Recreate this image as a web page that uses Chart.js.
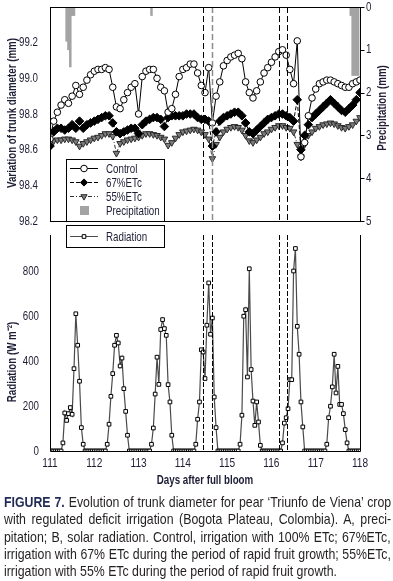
<!DOCTYPE html>
<html>
<head>
<meta charset="utf-8">
<script src="https://cdn.jsdelivr.net/npm/chart.js@4.4.0/dist/chart.umd.min.js"></script>
<style>
  html, body { margin: 0; padding: 0; background: #fff; }
  body { width: 393px; height: 581px; position: relative; overflow: hidden;
         font-family: 'Liberation Sans', Arial, sans-serif; }
  #topChart { position: absolute; left: 0; top: 0; }
  #bottomChart { position: absolute; left: 0; top: 221px; }
  #caption { position: absolute; left: 4px; top: 494px; font-size: 14.5px;
             line-height: 17.3px; color: #231f20; }
  #caption div { white-space: nowrap; width: max-content; transform-origin: 0 0; }
  #caption b { color: #1f2a55; }
</style>
</head>
<body>
<canvas id="topChart" width="393" height="228"></canvas>
<canvas id="bottomChart" width="393" height="268"></canvas>
<div id="caption">
  <div><b>FIGURE 7.</b> Evolution of trunk diameter for pear ‘Triunfo de Viena’ crop</div>
  <div>with regulated deficit irrigation (Bogota Plateau, Colombia). A, preci-</div>
  <div>pitation; B, solar radiation. Control, irrigation with 100% ETc; 67%ETc,</div>
  <div>irrigation with 67% ETc during the period of rapid fruit growth; 55%ETc,</div>
  <div class="last">irrigation with 55% ETc during the period of rapid fruit growth.</div>
</div>
<script>
const firstDay = 111;
const lastDay = 118;
const diamStepHours = 2;   // trunk diameter readings
const hourStep = 1;        // weather readings

// trunk diameter variation (mm), every 2 h from day 111
const controlMm = [
  98.66, 98.76, 98.81, 98.85, 98.88, 98.86, 98.90, 98.96, 98.91, 98.95, 98.99, 99.02,
  99.04, 99.05, 99.05, 99.06, 99.05, 98.95, 98.84, 98.83, 98.88, 98.92, 98.95, 98.97,
  98.80, 99.01, 99.04, 99.05, 99.05, 99.00, 98.95, 98.93, 98.81, 98.83, 98.91, 99.01,
  99.05, 99.06, 99.08, 99.08, 99.03, 98.96, 98.92, 99.06, 98.75, 98.90, 98.98, 99.07,
  99.10, 99.12, 99.13, 99.14, 99.11, 98.98, 98.92, 98.89, 98.93, 98.98, 99.03, 99.06,
  99.09, 99.12, 99.15, 99.16, 99.13, 99.05, 98.97, 99.21, 98.56, 98.64, 98.79, 98.89,
  98.94, 98.97, 98.98, 98.99, 98.99, 98.98, 98.97, 98.96, 98.95, 98.95, 98.97, 98.98,
  98.99
];
const etc67Mm = [
  98.62, 98.70, 98.72, 98.72, 98.71, 98.72, 98.74, 98.72, 98.76, 98.72, 98.74, 98.75,
  98.76, 98.77, 98.78, 98.79, 98.79, 98.75, 98.70, 98.69, 98.70, 98.71, 98.72, 98.72,
  98.69, 98.74, 98.76, 98.77, 98.78, 98.78, 98.77, 98.73, 98.78, 98.79, 98.79, 98.79,
  98.79, 98.80, 98.80, 98.80, 98.78, 98.77, 98.77, 98.76, 98.62, 98.70, 98.76, 98.78,
  98.79, 98.80, 98.81, 98.81, 98.79, 98.75, 98.70, 98.69, 98.71, 98.73, 98.75, 98.77,
  98.78, 98.79, 98.80, 98.80, 98.79, 98.78, 98.76, 98.88, 98.60, 98.68, 98.74, 98.78,
  98.80, 98.82, 98.84, 98.86, 98.88, 98.86, 98.84, 98.82, 98.81, 98.83, 98.85, 98.88,
  98.92
];
const etc55Mm = [
  98.620, 98.650, 98.655, 98.655, 98.660, 98.660, 98.655, 98.645, 98.620, 98.635, 98.645, 98.655,
  98.665, 98.670, 98.680, 98.690, 98.690, 98.675, 98.580, 98.635, 98.645, 98.655, 98.660, 98.665,
  98.670, 98.680, 98.690, 98.690, 98.685, 98.680, 98.670, 98.660, 98.625, 98.640, 98.665, 98.685,
  98.700, 98.705, 98.710, 98.715, 98.710, 98.700, 98.685, 98.660, 98.550, 98.630, 98.670, 98.700,
  98.715, 98.725, 98.730, 98.725, 98.710, 98.680, 98.650, 98.640, 98.655, 98.670, 98.690, 98.700,
  98.715, 98.725, 98.735, 98.735, 98.725, 98.720, 98.700, 98.630, 98.560, 98.630, 98.680, 98.700,
  98.720, 98.730, 98.740, 98.745, 98.750, 98.745, 98.735, 98.725, 98.720, 98.730, 98.740, 98.760,
  98.780
];

// hourly precipitation (mm)
const precipMm = [
  0, 0, 0, 0, 0, 0, 0, 0, 0, 0.8, 1.0, 1.4, 0.2, 0.2, 0, 0, 0, 0, 0, 0, 0, 0, 0, 0,
  0, 0, 0, 0, 0, 0, 0, 0, 0, 0, 0, 0, 0, 0, 0, 0, 0, 0, 0, 0, 0, 0, 0, 0,
  0, 0, 0, 0, 0, 0, 0, 0.2, 0, 0, 0, 0, 0, 0, 0, 0, 0, 0, 0, 0, 0, 0, 0, 0,
  0, 0, 0, 0, 0, 0, 0, 0, 0, 0, 0, 0, 0, 0, 0, 0, 0, 0, 0, 0, 0, 0, 0, 0,
  0, 0, 0, 0, 0, 0, 0, 0, 0, 0, 0, 0, 0, 0, 0, 0, 0, 0, 0, 0, 0, 0, 0, 0,
  0, 0, 0, 0, 0, 0, 0, 0, 0, 0, 0, 0, 0, 0, 0, 0, 0, 0, 0, 0, 0, 0, 0, 0,
  0, 0, 0, 0, 0, 0, 0, 0, 0, 0, 0, 0, 0, 0, 0, 0, 0, 0, 0, 0.2, 1.6, 1.6, 1.6, 1.6,
  0
];

// hourly solar radiation (W m-2)
const radiationWm2 = [
  0, 0, 0, 0, 0, 0, 0, 36, 169, 136, 166, 193, 163, 366, 610, 470, 310, 104, 30, 0, 0, 0, 0, 0,
  0, 0, 0, 0, 0, 0, 0, 30, 119, 243, 344, 470, 514, 480, 378, 413, 277, 176, 70, 0, 0, 0, 0, 0,
  0, 0, 0, 0, 0, 0, 0, 30, 102, 253, 417, 296, 540, 584, 544, 514, 295, 218, 70, 0, 0, 0, 0, 0,
  0, 0, 0, 0, 0, 0, 0, 30, 141, 218, 450, 440, 322, 559, 747, 519, 591, 240, 104, 0, 0, 0, 0, 0,
  0, 0, 0, 0, 0, 0, 0, 30, 159, 599, 628, 329, 810, 362, 222, 114, 218, 129, 25, 0, 0, 0, 0, 0,
  0, 0, 0, 0, 0, 0, 36, 124, 148, 188, 317, 317, 800, 900, 554, 430, 218, 107, 0, 0, 0, 0, 0, 0,
  0, 0, 0, 0, 0, 0, 30, 148, 199, 285, 430, 258, 376, 207, 207, 166, 95, 36, 0, 0, 0, 0, 0, 0,
  0
];

// tick labels
const diamTicks = [98.2, 98.4, 98.6, 98.8, 99.0, 99.2];
const precipTicks = [0, 1, 2, 3, 4, 5];
const radTicks = [0, 200, 400, 600, 800];
const dayTicks = [111, 112, 113, 114, 115, 116, 117, 118];

const eventDays = [114.46, 114.66, 116.18, 116.36];
const eventColorsTop = ['#000', '#8c8c8c', '#000', '#000'];

const tickColor = '#1d1d35';
const fontFam = "'Liberation Sans', Arial, sans-serif";
const squeeze = 0.75;   // condensed lettering

function toPoints(values, stepHours) {
  return values.map((v, i) => ({ x: firstDay + i * stepHours / 24, y: v }));
}

function condText(ctx, text, x, y, o) {
  const opt = Object.assign({ size: 13, weight: 'normal', align: 'left', rotate: false }, o || {});
  ctx.save();
  ctx.translate(x, y);
  if (opt.rotate) ctx.rotate(-Math.PI / 2);
  ctx.scale(squeeze, 1);
  ctx.font = opt.weight + ' ' + opt.size + 'px ' + fontFam;
  ctx.fillStyle = tickColor;
  ctx.textAlign = opt.align;
  ctx.textBaseline = 'middle';
  ctx.fillText(text, 0, 0);
  ctx.restore();
}

function line(ctx, x1, y1, x2, y2) {
  ctx.beginPath();
  ctx.moveTo(x1, y1);
  ctx.lineTo(x2, y2);
  ctx.stroke();
}

function drawEvents(chart, colors, dash) {
  const { ctx, chartArea: a, scales } = chart;
  ctx.save();
  ctx.setLineDash(dash);
  eventDays.forEach((d, i) => {
    const x = Math.round(scales.x.getPixelForValue(d)) + 0.5;
    ctx.strokeStyle = colors[i];
    ctx.lineWidth = colors[i] === '#000' ? 1 : 1.5;
    line(ctx, x, a.top, x, a.bottom);
  });
  ctx.restore();
}

function legendRow(ctx, ds, y, label) {
  ctx.save();
  ctx.strokeStyle = ds.borderColor;
  ctx.lineWidth = 1;
  ctx.setLineDash(ds.borderDash || []);
  line(ctx, 70, y + 0.5, 98, y + 0.5);
  ctx.setLineDash([]);
  ctx.fillStyle = ds.pointBackgroundColor;
  ctx.strokeStyle = ds.pointBorderColor;
  Chart.helpers.drawPoint(ctx, {
    pointStyle: ds.pointStyle, radius: Math.min(ds.pointRadius, 3.6),
    rotation: ds.pointRotation || 0, borderWidth: 1
  }, 84, y + 0.5);
  ctx.restore();
  condText(ctx, label, 106, y + 1, { size: 13 });
}

const topPlugin = {
  id: 'topDecor',
  afterDatasetsDraw(chart) {
    const { ctx, chartArea: a, scales } = chart;
    drawEvents(chart, eventColorsTop, [6, 3]);
    ctx.save();
    ctx.strokeStyle = '#000';
    ctx.lineWidth = 1;
    const L = Math.round(a.left) + 0.5, R = Math.round(a.right) + 0.5;
    const T = Math.round(a.top) + 0.5, B = Math.round(a.bottom) + 0.5;
    ctx.strokeRect(L, T, R - L, B - T);
    // right axis tick marks
    precipTicks.forEach(v => {
      const y = Math.round(scales.yP.getPixelForValue(v)) + 0.5;
      line(ctx, R, y, R + 4, y);
    });
    // legend box
    ctx.fillStyle = '#fff';
    ctx.fillRect(66, 159, 99, 62);
    ctx.strokeRect(66.5, 159.5, 98, 62);
    ctx.restore();

    diamTicks.forEach(v => condText(ctx, v.toFixed(1), 38, scales.y.getPixelForValue(v), { size: 13, align: 'right' }));
    precipTicks.forEach(v => condText(ctx, String(v), 366, scales.yP.getPixelForValue(v), { size: 13 }));

    const ds = chart.data.datasets;
    legendRow(ctx, ds[0], 168, 'Control');
    legendRow(ctx, ds[1], 182, '67%ETc');
    legendRow(ctx, ds[2], 196, '55%ETc');
    ctx.save();
    ctx.fillStyle = ds[3].backgroundColor;
    ctx.fillRect(80, 206, 9, 9);
    ctx.restore();
    condText(ctx, 'Precipitation', 106, 211, { size: 13 });

    condText(ctx, 'Variation of trunk diameter (mm)', 12, 113, { size: 13, weight: 'bold', align: 'center', rotate: true });
    condText(ctx, 'Precipitation (mm)', 382, 108, { size: 13, weight: 'bold', align: 'center', rotate: true });
  }
};

const bottomPlugin = {
  id: 'bottomDecor',
  afterDatasetsDraw(chart) {
    const { ctx, chartArea: a, scales } = chart;
    drawEvents(chart, ['#000', '#000', '#000', '#000'], [5, 2]);
    ctx.save();
    ctx.strokeStyle = '#000';
    ctx.lineWidth = 1;
    const L = Math.round(a.left) + 0.5, R = Math.round(a.right) + 0.5;
    const B = Math.round(a.bottom) + 0.5;
    line(ctx, L, a.top, L, B);
    line(ctx, R, a.top, R, B);
    line(ctx, L, B, R, B);
    ctx.fillStyle = '#fff';
    ctx.fillRect(66, 4, 99, 23);
    ctx.strokeRect(66.5, 4.5, 98, 22);
    ctx.restore();

    radTicks.forEach(v => condText(ctx, String(v), 39, scales.y.getPixelForValue(v), { size: 13, align: 'right' }));
    dayTicks.forEach(v => condText(ctx, String(v), scales.x.getPixelForValue(v), 242, { size: 13.5, align: 'center' }));
    condText(ctx, 'Days after full bloom', 205, 259, { size: 13, weight: 'bold', align: 'center' });

    legendRow(ctx, chart.data.datasets[0], 15, 'Radiation');
    condText(ctx, 'Radiation (W m⁻²)', 12, 141, { size: 13, weight: 'bold', align: 'center', rotate: true });
  }
};

new Chart(document.getElementById('topChart'), {
  type: 'line',
  data: {
    datasets: [
      {
        label: 'Control', data: toPoints(controlMm, diamStepHours), yAxisID: 'y',
        borderColor: '#000', borderWidth: 1, pointStyle: 'circle', pointRadius: 3.3,
        pointBackgroundColor: '#fff', pointBorderColor: '#000', pointBorderWidth: 1, order: 1
      },
      {
        label: '67%ETc', data: toPoints(etc67Mm, diamStepHours), yAxisID: 'y',
        borderColor: '#000', borderWidth: 1, borderDash: [4, 2], pointStyle: 'rectRot', pointRadius: 4.3,
        pointBackgroundColor: '#000', pointBorderColor: '#000', pointBorderWidth: 1, order: 2
      },
      {
        label: '55%ETc', data: toPoints(etc55Mm, diamStepHours), yAxisID: 'y',
        borderColor: '#333', borderWidth: 1, borderDash: [4, 2, 1, 2], pointStyle: 'triangle',
        pointRotation: 180, pointRadius: 3.8,
        pointBackgroundColor: '#7c7c7c', pointBorderColor: '#2a2a2a', pointBorderWidth: 1, order: 3
      },
      {
        type: 'bar', label: 'Precipitation', data: toPoints(precipMm, hourStep), yAxisID: 'yP',
        backgroundColor: '#a3a3a3', borderWidth: 0, barPercentage: 1, categoryPercentage: 1, order: 4
      }
    ]
  },
  options: {
    responsive: false, animation: false, devicePixelRatio: 1,
    layout: { padding: { top: 7, bottom: 7, left: 0, right: 0 } },
    plugins: { legend: { display: false }, tooltip: { enabled: false } },
    elements: { line: { tension: 0 } },
    scales: {
      x: { type: 'linear', min: firstDay, max: lastDay, offset: false, display: false },
      y: {
        position: 'left', min: 98.2, max: 99.4,
        ticks: { display: false, stepSize: 0.2 },
        grid: { display: false, drawTicks: false }, border: { display: false },
        afterFit: s => { s.width = 50; }
      },
      yP: {
        position: 'right', min: 0, max: 5, reverse: true,
        ticks: { display: false, stepSize: 1 },
        grid: { display: false, drawTicks: false }, border: { display: false },
        afterFit: s => { s.width = 33; }
      }
    }
  },
  plugins: [topPlugin]
});

new Chart(document.getElementById('bottomChart'), {
  type: 'line',
  data: {
    datasets: [{
      label: 'Radiation', data: toPoints(radiationWm2, hourStep),
      borderColor: '#4a4a4a', borderWidth: 1.2, pointStyle: 'rect', pointRadius: 2.6,
      pointBackgroundColor: '#fff', pointBorderColor: '#000', pointBorderWidth: 1
    }]
  },
  options: {
    responsive: false, animation: false, devicePixelRatio: 1,
    layout: { padding: { top: 14, bottom: 0, left: 0, right: 33 } },
    plugins: { legend: { display: false }, tooltip: { enabled: false } },
    elements: { line: { tension: 0 } },
    scales: {
      x: {
        type: 'linear', min: firstDay, max: lastDay, offset: false,
        ticks: { display: false, stepSize: 1 },
        grid: { display: false, drawTicks: false }, border: { display: false },
        afterFit: s => { s.height = 38; }
      },
      y: {
        min: 0, max: 960,
        ticks: { display: false, stepSize: 200 },
        grid: { display: false, drawTicks: false }, border: { display: false },
        afterFit: s => { s.width = 50; }
      }
    }
  },
  plugins: [bottomPlugin]
});

// caption: condensed lettering, justified lines of 387 px
(function fitCaption() {
  const lines = Array.from(document.querySelectorAll('#caption div'));
  const last = lines[lines.length - 1];
  const k = 333 / last.getBoundingClientRect().width;
  lines.forEach(el => {
    el.style.transform = 'scaleX(' + k + ')';
    if (el.classList.contains('last')) return;
    const natural = el.scrollWidth;
    const spaces = (el.textContent.trim().match(/ /g) || []).length;
    el.style.wordSpacing = ((387 / k - natural) / spaces) + 'px';
  });
})();
</script>
</body>
</html>
